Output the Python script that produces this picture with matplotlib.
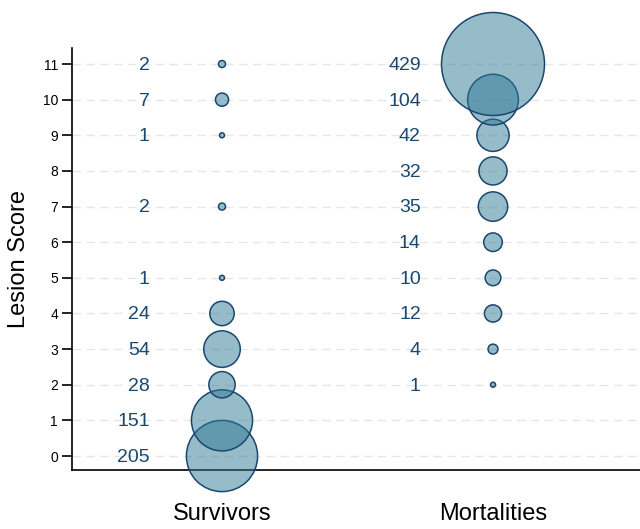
import matplotlib.pyplot as plt
import numpy as np

plt.rcParams['font.family'] = ['Liberation Sans', 'DejaVu Sans']

groups = ['Survivors', 'Mortalities']
surv_scores = [0, 1, 2, 3, 4, 5, 7, 9, 10, 11]
surv_counts = [205, 151, 28, 54, 24, 1, 2, 1, 7, 2]
mort_scores = [2, 3, 4, 5, 6, 7, 8, 9, 10, 11]
mort_counts = [1, 4, 12, 10, 14, 35, 32, 42, 104, 429]

navy = '#1a476f'
fill = (0.18, 0.47, 0.58, 0.5)
size_per = 5500 / 429.0

fig = plt.figure(figsize=(6.4, 5.29), dpi=100)
ax = fig.add_axes([0.1125, 0.1115, 0.8875, 0.7978])

for xi, (sc, ct) in enumerate([(surv_scores, surv_counts), (mort_scores, mort_counts)]):
    x = np.full(len(sc), xi + 1)
    ax.scatter(x, sc, s=np.array(ct) * size_per, facecolor=fill, edgecolor=navy,
               linewidth=1.1, clip_on=False, zorder=3)
    for s, c in zip(sc, ct):
        ax.annotate(str(c), (xi + 1, s), xytext=(-52, -1), textcoords='offset points',
                    ha='right', va='center', fontsize=14, color=navy, zorder=4)

ax.set_xlim(0.4465, 2.5424)
ax.set_ylim(-0.393, 11.45)
ax.set_yticks(range(12))
ax.set_xticks([1, 2])
ax.set_xticklabels(groups, fontsize=17)
ax.tick_params(axis='x', length=0, pad=24)
ax.tick_params(axis='y', length=7, width=1.2, labelsize=10, pad=3)
ax.set_ylabel('Lesion Score', fontsize=17, labelpad=9)

for y in range(12):
    ax.axhline(y, color='#e6e6e6', linestyle=(0, (6, 4)), linewidth=1, zorder=1)

ax.spines['top'].set_visible(False)
ax.spines['right'].set_visible(False)
ax.spines['left'].set_linewidth(1.2)
ax.spines['bottom'].set_linewidth(1.2)

fig.savefig('out.png', dpi=100)
